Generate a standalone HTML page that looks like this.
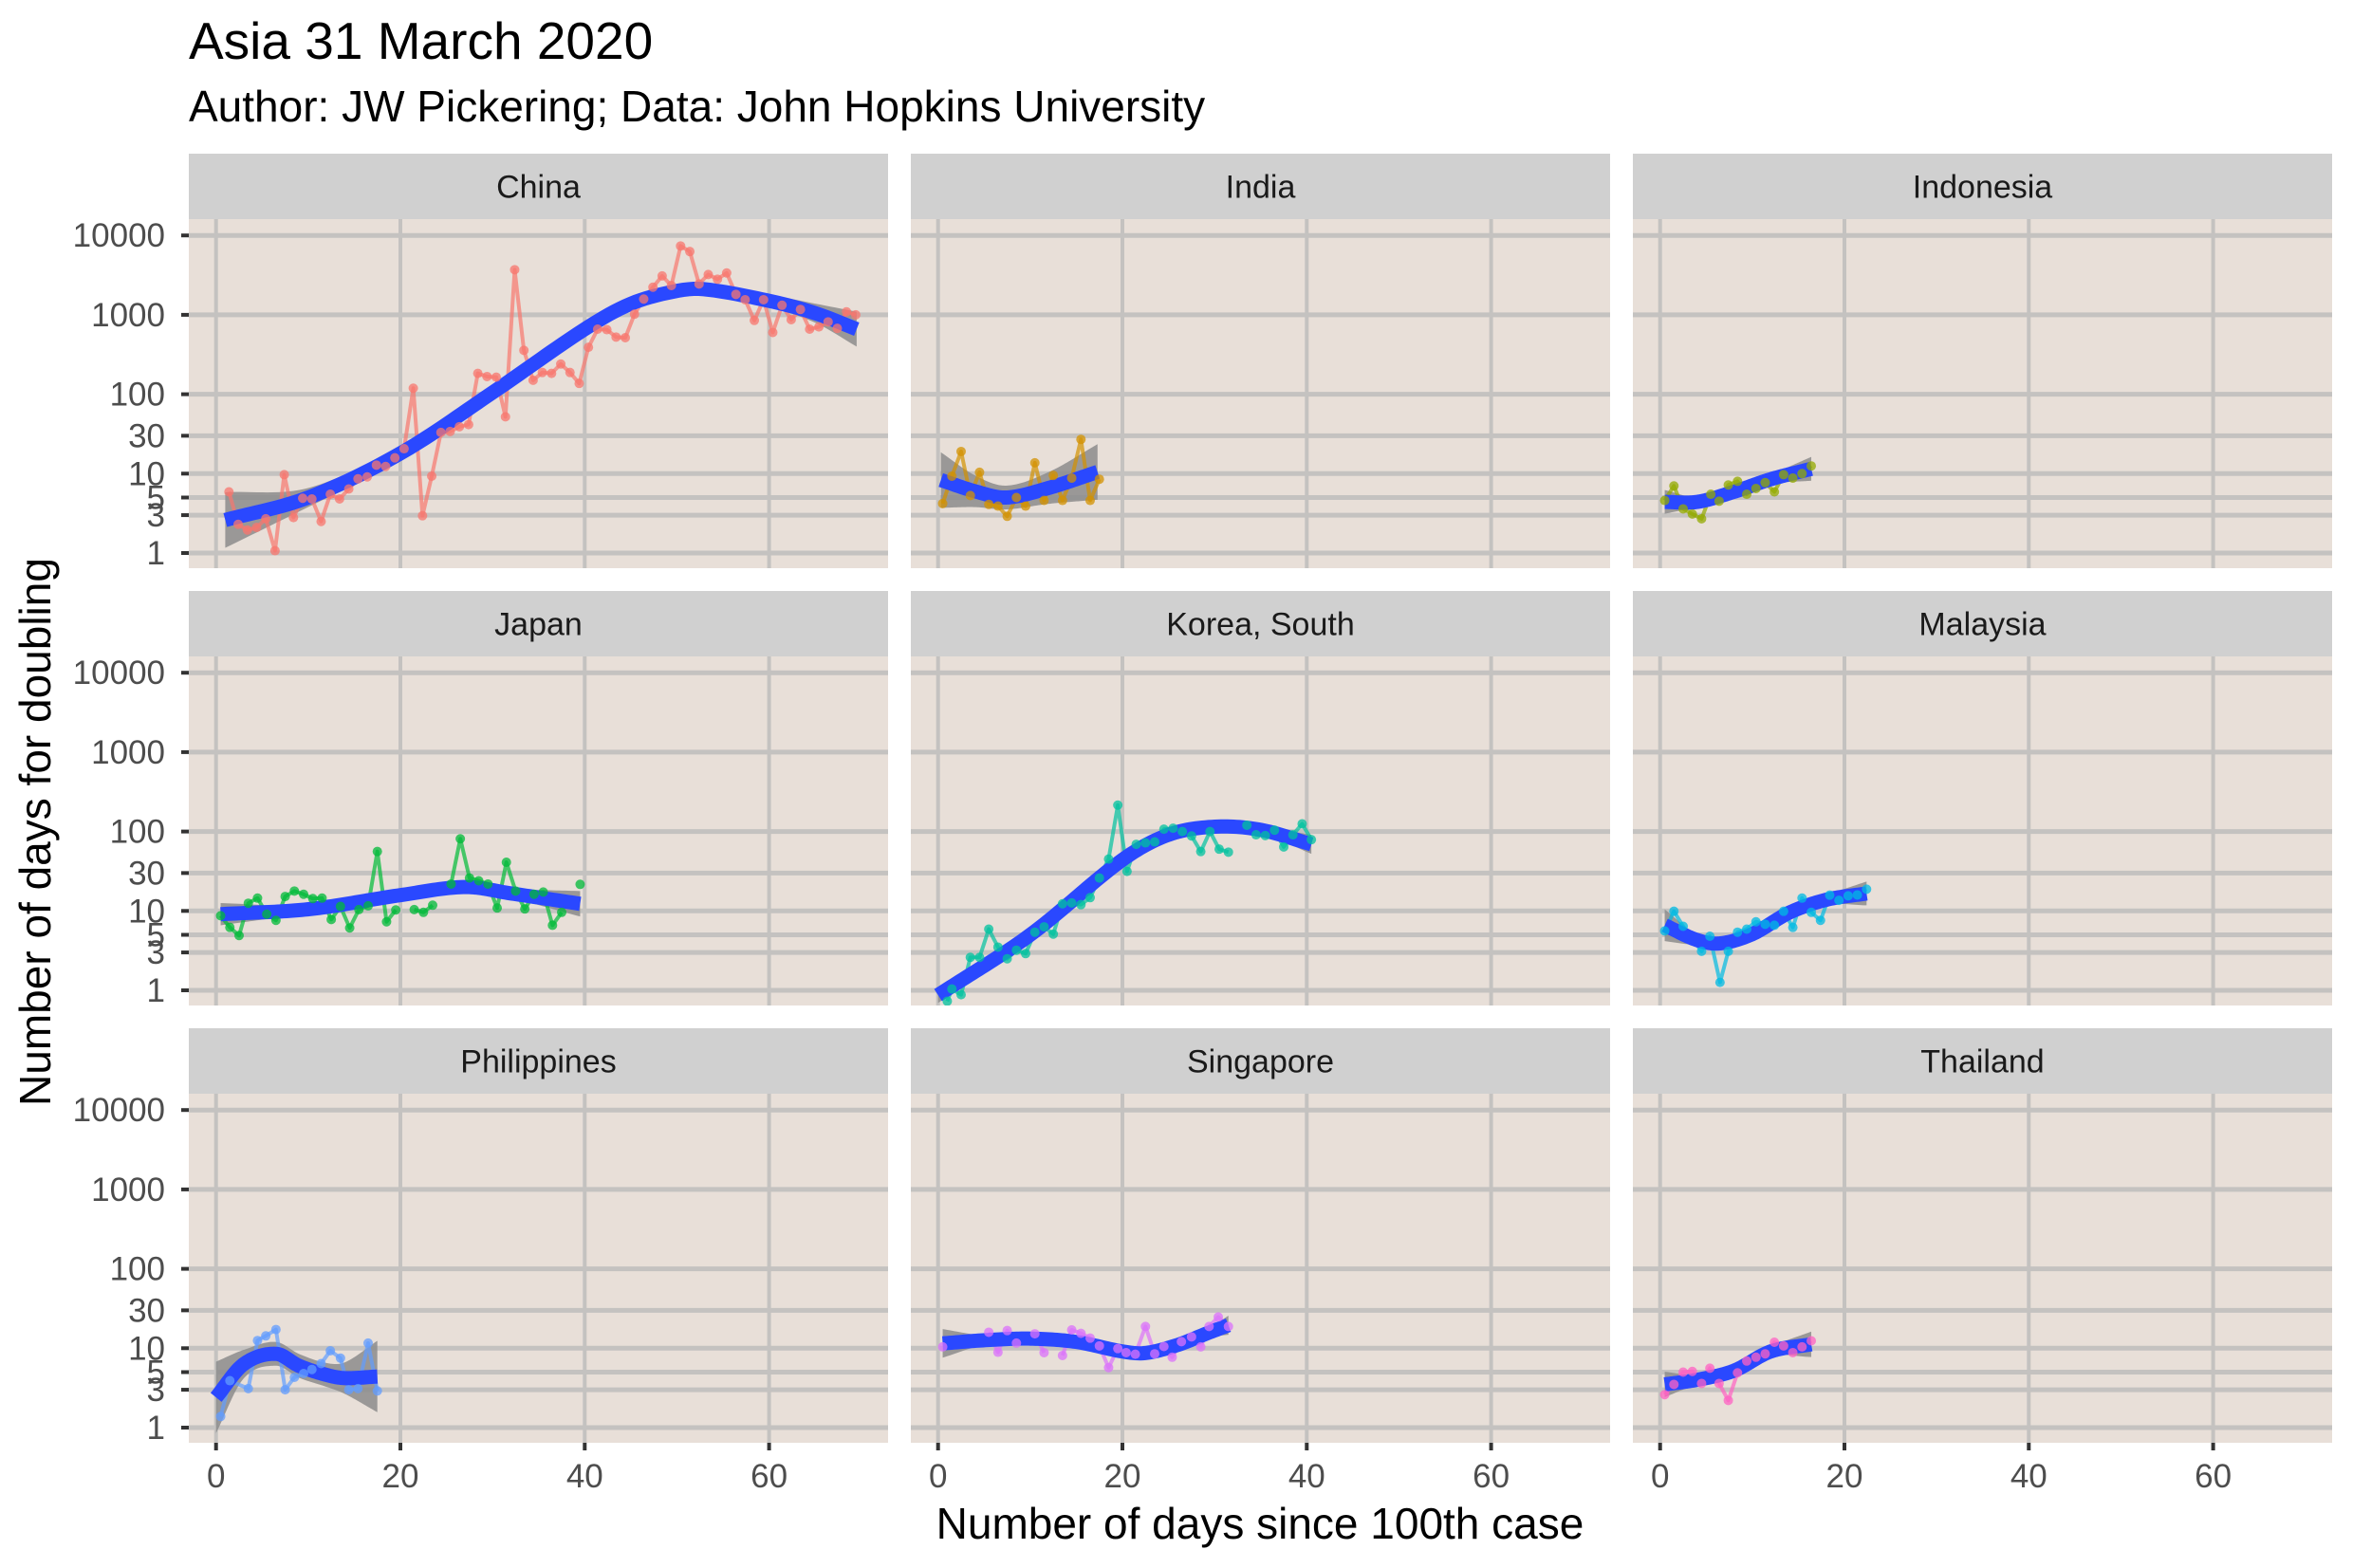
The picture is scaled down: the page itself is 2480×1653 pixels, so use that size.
<!DOCTYPE html>
<html><head><meta charset="utf-8"><title>Asia 31 March 2020</title>
<style>
html,body{margin:0;padding:0;background:#fff;}
svg{display:block;font-family:"Liberation Sans",Arial,sans-serif;}
</style></head>
<body>
<svg id="chart" xmlns="http://www.w3.org/2000/svg" width="2480" height="1653" viewBox="0 0 2480 1653">
<rect width="2480" height="1653" fill="#fff"/>
<text x="199" y="62" font-size="55" fill="#000">Asia 31 March 2020</text>
<text x="199" y="128" font-size="46" fill="#000">Author: JW Pickering; Data: John Hopkins University</text>
<text x="1328" y="1622" font-size="46" fill="#000" text-anchor="middle">Number of days since 100th case</text>
<text transform="translate(53,877) rotate(-90)" font-size="46" fill="#000" text-anchor="middle">Number of days for doubling</text>
<g id="panels"></g>
</svg>
<script>
const countries = ["China","India","Indonesia","Japan","Korea, South","Malaysia","Philippines","Singapore","Thailand"];
const colors = ["#F8766D","#D39200","#93AA00","#00BA38","#00C19F","#00B9E3","#619CFF","#DB72FB","#FF61C3"];
const yTicks = [1,3,5,10,30,100,1000,10000];
const yTickLabels = ["1","3","5","10","30","100","1000","10000"];
const xTicks = [0,20,40,60];
const xTickLabels = ["0","20","40","60"];

const chinaDays = [1.4,2.4,3.4,4.4,5.4,6.4,7.4,8.4,9.4,10.4,11.4,12.4,13.4,14.4,15.4,16.4,17.4,18.4,19.4,20.4,21.4,22.4,23.4,24.4,25.4,26.4,27.4,28.4,29.4,30.4,31.4,32.4,33.4,34.4,35.4,36.4,37.4,38.4,39.4,40.4,41.4,42.4,43.4,44.4,45.4,46.4,47.4,48.4,49.4,50.4,51.4,52.4,53.4,54.4,55.4,56.4,57.4,58.4,59.4,60.4,61.4,62.4,63.4,64.4,65.4,66.4,67.4,68.4,69.4];
const chinaVals = [5.9,2.3,1.95,2.1,2.7,1.07,9.7,2.8,4.9,4.8,2.5,5.5,4.8,6.4,8.6,9.1,12.8,12.3,15.8,20.6,119,2.95,9.3,33,34,39,41.5,183,167,164,52,3700,357,150,188,183,240,188,137,390,660,650,525,515,1020,1580,2230,3090,2340,7360,6270,2450,3220,2810,3370,1810,1550,850,1550,600,1320,870,1170,660,705,815,675,1090,1000];
const indiaDays = [0.5,1.5,2.5,3.5,4.5,5.5,6.5,7.5,8.5,9.5,10.5,11.5,12.5,13.5,14.5,15.5,16.5,17.5];
const indiaVals = [4.2,9.3,19,5.3,10.4,4.1,3.9,2.9,5,3.9,13.7,4.6,9.5,4.6,8.8,27,4.6,8.5];
const indonesiaDays = [0.5,1.5,2.5,3.5,4.5,5.5,6.4,7.4,8.4,9.4,10.4,11.4,12.4,13.4,14.4,15.4,16.4];
const indonesiaVals = [4.6,7,3.6,3.1,2.7,5.5,4.5,7.2,8,5.5,6.5,7.7,5.9,9.7,8.8,10,12.5];
const japanDays = [0.5,1.5,2.5,3.5,4.5,5.5,6.5,7.5,8.5,9.5,10.5,11.5,12.5,13.5,14.5,15.5,16.5,17.5,18.5,19.5,20.5,21.5,22.5,23.5,24.5,25.5,26.5,27.5,28.5,29.5,30.5,31.5,32.5,33.5,34.5,35.5,36.5,37.5,38.5,39.5];
const japanVals = [8.7,6.2,4.9,12.5,14.5,9.1,7.6,15.2,17.8,16.2,14.3,14.5,7.8,11.4,6.1,10.4,11.6,56,7.3,10.3,null,10.4,9.6,11.8,null,21.8,81,26,24,21.8,10.9,41,17.8,10.6,16.2,17.3,6.6,9.6,null,21.6];
const koreaDays = [1,1.5,2.5,3.5,4.5,5.5,6.5,7.5,8.5,9.5,10.5,11.5,12.5,13.5,14.5,15.5,16.5,17.5,18.5,19.5,20.5,21.5,22.5,23.5,24.5,25.5,26.5,27.5,28.5,29.5,30.5,31.5,32.5,33.5,34.5,35.5,36.5,37.5,38.5,39.5,40.5];
const koreaVals = [0.73,1.04,0.88,2.6,2.6,5.9,3.5,2.5,3.2,2.9,5.4,6.3,5.1,12.3,12.6,12,14.7,26,45,215,31.5,69,72,74,107,110,100,88,56,100,60,55,null,120,91,89,104,64,91,125,79];
const malaysiaDays = [0.5,1.5,2.5,4.5,5.4,6.5,7.4,8.4,9.4,10.4,11.4,12.4,13.4,14.4,15.4,16.4,17.4,18.4,19.4,20.4,21.4,22.4];
const malaysiaVals = [5.6,9.9,6.4,3.1,4.8,1.26,3.1,5.4,5.9,7.3,6.8,6.6,9.9,6.2,14.5,9.6,7.6,15.8,13.6,15.5,15.9,18.8];
const philippinesDays = [0.5,1.5,3.5,4.5,5.4,6.5,7.5,8.5,9.5,10.4,11.4,12.4,13.5,14.4,15.4,16.5,17.5];
const philippinesVals = [1.38,3.9,3.1,12.5,14.3,17.2,3.0,4.3,4.8,5.4,6.4,9.3,7.5,3.0,3.1,11.6,2.9];
const singaporeDays = [0.5,3,5.5,6.5,7.5,8.5,9.5,10.5,11.5,12.5,13.5,14.5,15.5,16.5,17.5,18.5,19.5,20.4,21.4,22.5,23.5,24.5,25.4,26.4,27.5,28.5,29.4,30.4,31.5];
const singaporeVals = [10.4,null,15.9,8.9,16.7,11.6,null,15.2,8.8,null,8.1,17,15.4,13.4,10.7,5.7,9.9,8.8,8.4,18.8,8.5,10.5,7.7,12.1,13.9,10.4,18.8,24.7,18.8];
const thailandDays = [0.5,1.5,2.5,3.5,4.5,5.4,6.4,7.4,8.4,9.4,10.4,11.4,12.4,13.4,14.4,15.4,16.4];
const thailandVals = [2.6,3.5,5,5.1,3.6,5.6,3.6,2.2,4.9,6.9,7.7,8.5,11.9,10.7,8.8,10.4,12.4];

const fitDays = [[1,10,20,30,40,45,50,53,60,65,69.5],[0.3,4,7.4,12,17.3],[0.5,4,8,12,16.4],[0.5,10,20,27,32,39.5],[0,10,20,25,30,35,40.5],[0.5,4,6.5,10,14,18,22.4],[0,3,6.5,9,12,14,17.5],[0.5,5,10,15,20,22.5,26,29,31.5],[0.5,4,8,12,16.4]];
const fitVals = [[2.6,5,18,105,660,1380,2000,2100,1500,1050,660],[8.3,6,5,6.6,10.5],[4.4,4.4,5.9,8.5,11.5],[9.1,10.5,15.8,20,16.6,12.3],[0.87,5,44,91,115,105,69],[6.6,4.3,3.9,5.1,9.5,13.8,16.6],[2.4,6.3,8.5,6,4.6,4.2,4.4],[11.5,12.6,13.2,12,9.1,8.7,11,15.1,19.5],[3.5,4,5.2,9.1,11.2]];
const fitSe = [[0.35,0.12,0.1,0.1,0.1,0.08,0.07,0.07,0.08,0.12,0.22],[0.35,0.2,0.15,0.2,0.35],[0.15,0.06,0.05,0.06,0.15],[0.14,0.05,0.05,0.05,0.06,0.16],[0.1,0.05,0.05,0.04,0.04,0.04,0.12],[0.2,0.07,0.07,0.06,0.06,0.06,0.15],[0.45,0.18,0.15,0.15,0.15,0.2,0.45],[0.18,0.06,0.05,0.05,0.05,0.05,0.05,0.05,0.12],[0.16,0.06,0.06,0.06,0.16]];

const pointDays = [chinaDays,indiaDays,indonesiaDays,japanDays,koreaDays,malaysiaDays,philippinesDays,singaporeDays,thailandDays];
const pointVals = [chinaVals,indiaVals,indonesiaVals,japanVals,koreaVals,malaysiaVals,philippinesVals,singaporeVals,thailandVals];

const NS = "http://www.w3.org/2000/svg";
const colLeft = [199,960,1721], rowTop = [231,692,1153], PW = 737, PH = 368, STRIP = 69;
function mk(tag, attrs, parent){ const e=document.createElementNS(NS,tag); for(const k in attrs) e.setAttribute(k,attrs[k]); parent.appendChild(e); return e; }
function slug(s){ return s.toLowerCase().replace(/[^a-z]+/g,'-').replace(/-$/,''); }
function cr(xs, ys, t){
  let i=0; while(i<xs.length-2 && t>xs[i+1]) i++;
  const x1=xs[i],x2=xs[i+1]; const u=(t-x1)/(x2-x1);
  const p0=ys[Math.max(i-1,0)],p1=ys[i],p2=ys[i+1],p3=ys[Math.min(i+2,ys.length-1)];
  const m1=(i>0)?(p2-p0)/(xs[i+1]-xs[i-1])*(x2-x1):(p2-p1);
  const m2=(i+2<ys.length)?(p3-p1)/(xs[i+2]-xs[i])*(x2-x1):(p2-p1);
  const u2=u*u,u3=u2*u;
  return (2*u3-3*u2+1)*p1+(u3-2*u2+u)*m1+(-2*u3+3*u2)*p2+(u3-u2)*m2;
}
const root = document.getElementById('panels');
const defs = mk('defs',{},root);
countries.forEach((name,k)=>{
  const r=Math.floor(k/3), c=k%3;
  const L=colLeft[c], T=rowTop[r];
  const xs = d => L + 28.7 + d*9.715;
  const ys = v => T + 352 - Math.log10(v)*83.7;
  const ysl = lg => T + 352 - lg*83.7;
  const g = mk('g',{},root);
  
  
  const cp = mk('clipPath',{id:'clip'+k},defs);
  mk('rect',{x:L,y:T,width:PW,height:PH},cp);
  const strip = mk('rect',{x:L,y:T-STRIP,width:PW,height:STRIP,fill:'#D0D0D0'},g);
  
  
  const st = mk('text',{x:L+PW/2,y:T-STRIP/2+12,'font-size':34,'text-anchor':'middle',fill:'#1A1A1A'},g);
  st.textContent = name;
  
  
  const bg = mk('rect',{x:L,y:T,width:PW,height:PH,fill:'#E8DFD8'},g);
  
  
  yTicks.forEach((v,i)=>{
    const gl = mk('line',{x1:L,x2:L+PW,y1:ys(v),y2:ys(v),stroke:'#C4C2C0','stroke-width':5},g);
    
    
    if(c===0){
      const tk = mk('line',{x1:L-8,x2:L,y1:ys(v),y2:ys(v),stroke:'#333','stroke-width':4},g);
      
      
      const tl = mk('text',{x:L-25,y:ys(v)+12,'font-size':35,'text-anchor':'end',fill:'#4D4D4D'},g);
      tl.textContent = yTickLabels[i];
      
      
    }
  });
  xTicks.forEach((d,i)=>{
    const gl = mk('line',{x1:xs(d),x2:xs(d),y1:T,y2:T+PH,stroke:'#C4C2C0','stroke-width':4},g);
    
    
    if(r===2){
      const tk = mk('line',{x1:xs(d),x2:xs(d),y1:T+PH,y2:T+PH+8,stroke:'#333','stroke-width':4},g);
      
      
      const tl = mk('text',{x:xs(d),y:1568,'font-size':35,'text-anchor':'middle',fill:'#4D4D4D'},g);
      tl.textContent = xTickLabels[i];
      
      
    }
  });
  const cg = mk('g',{'clip-path':'url(#clip'+k+')'},g);
  const fd=fitDays[k], fvl=fitVals[k].map(Math.log10), fse=fitSe[k];
  const d0=fd[0], d1=fd[fd.length-1];
  const up=[], lo=[], mid=[];
  for(let t=d0;t<=d1+1e-9;t+=(d1-d0)/120){
    const m=cr(fd,fvl,t), s=cr(fd,fse,t);
    mid.push([xs(t),ysl(m)]); up.push([xs(t),ysl(m+s)]); lo.push([xs(t),ysl(m-s)]);
  }
  const rib = mk('path',{d:'M'+up.map(p=>p.join(',')).join('L')+'L'+lo.reverse().map(p=>p.join(',')).join('L')+'Z',fill:'#8C8C8C','fill-opacity':0.85},cg);
  
  
  const pd=pointDays[k], pv=pointVals[k];
  let segs=[], cur=[];
  pd.forEach((d,i)=>{ if(pv[i]==null){ if(cur.length) segs.push(cur); cur=[]; } else cur.push([xs(d),ys(pv[i])]); });
  if(cur.length) segs.push(cur);
  segs.forEach(sg=>{ if(sg.length>1){
    const ln = mk('path',{d:'M'+sg.map(p=>p.join(',')).join('L'),fill:'none',stroke:colors[k],'stroke-width':4,'stroke-opacity':0.7,'stroke-linejoin':'round'},cg);
    
    
  }});
  const fit = mk('path',{d:'M'+mid.map(p=>p.join(',')).join('L'),fill:'none',stroke:'#2A48FF','stroke-width':15},cg);
  
  
  pd.forEach((d,i)=>{ if(pv[i]==null) return;
    const pt = mk('circle',{cx:xs(d),cy:ys(pv[i]),r:5,fill:colors[k],'fill-opacity':0.75},cg);
    
    
  });
});
</script>
</body></html>
